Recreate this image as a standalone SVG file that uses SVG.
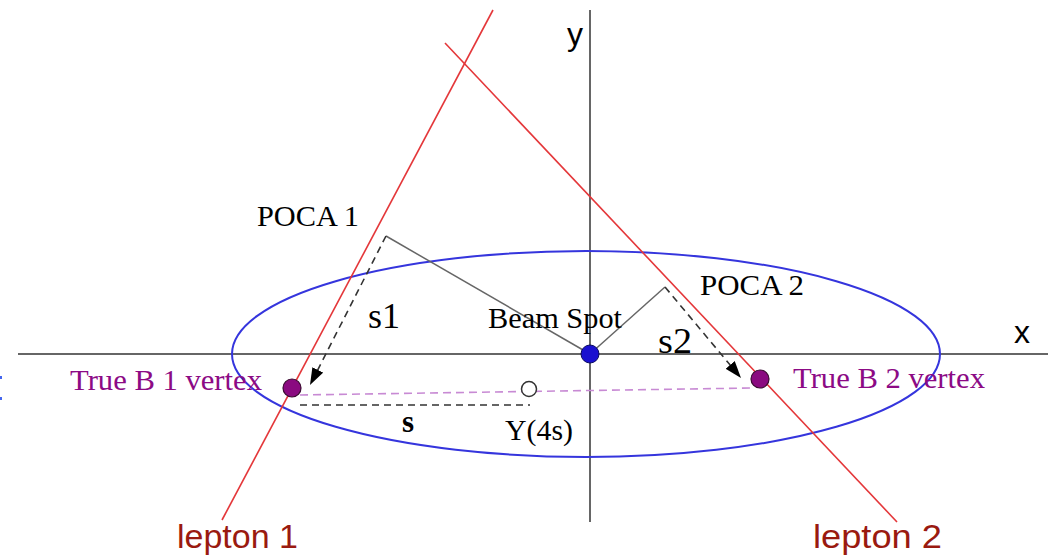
<svg xmlns="http://www.w3.org/2000/svg" width="1048" height="556" viewBox="0 0 1048 556">
<style>
.axis{stroke:#666;stroke-width:2;fill:none}
.lep{stroke:#e4373a;stroke-width:1.6;fill:none}
.gray{stroke:#666;stroke-width:1.5;fill:none}
.dash{stroke:#333;stroke-width:1.6;fill:none;stroke-dasharray:7 5}
.pdash{stroke:#c88ad4;stroke-width:1.6;fill:none;stroke-dasharray:8 5}
.serif{font-family:"Liberation Serif","Times New Roman",serif;fill:#000}
.sans{font-family:"Liberation Sans",Arial,sans-serif}
.purple{fill:#8c0a85}
.leplab{fill:#9a1a10;font-size:34px}
.vtx{fill:#8a0a80;stroke:#3a0a30;stroke-width:1.2}
</style>
<defs>
<marker id="ah" markerUnits="userSpaceOnUse" markerWidth="18" markerHeight="12" refX="17" refY="6" orient="auto">
<path d="M0,0 L17,6 L0,12 z" fill="#000"/>
</marker>
</defs>
<rect width="1048" height="556" fill="#fff"/>
<g id="edge-marks">
<rect x="0" y="376" width="2" height="3" fill="#4466ee"/>
<rect x="0" y="397" width="2" height="3" fill="#4466ee"/>
</g>
<g id="axes">
<line class="axis" x1="18" y1="354" x2="1048" y2="354"/>
<line class="axis" x1="590" y1="10" x2="590" y2="522"/>
<text class="sans" x="1014" y="343" font-size="32" fill="#000">x</text>
<text class="sans" x="567" y="45" font-size="32" fill="#000">y</text>
</g>
<g id="beam-ellipse">
<ellipse cx="586" cy="354" rx="354" ry="103" fill="none" stroke="#3535dd" stroke-width="2"/>
</g>
<g id="connectors">
<line class="lep" x1="493" y1="10" x2="222" y2="520"/>
<line class="lep" x1="445" y1="43" x2="897" y2="522"/>
<line class="gray" x1="386" y1="236" x2="590" y2="354"/>
<line class="gray" x1="665" y1="287" x2="590" y2="354"/>
<line class="dash" x1="386" y1="236" x2="310" y2="385" marker-end="url(#ah)"/>
<line class="dash" x1="665" y1="287" x2="741" y2="378" marker-end="url(#ah)"/>
<line class="pdash" x1="300" y1="395" x2="752" y2="388"/>
<line class="dash" x1="300" y1="405" x2="530" y2="405"/>
</g>
<g id="beam-spot">
<circle cx="590" cy="354" r="9" fill="#1a10d0" stroke="#0a0a60" stroke-width="1"/>
<text class="serif" x="488" y="328" font-size="29" textLength="134" lengthAdjust="spacingAndGlyphs">Beam Spot</text>
</g>
<g id="poca1">
<text class="serif" x="257" y="226" font-size="29" textLength="102" lengthAdjust="spacingAndGlyphs">POCA 1</text>
</g>
<g id="poca2">
<text class="serif" x="700" y="295" font-size="29" textLength="104" lengthAdjust="spacingAndGlyphs">POCA 2</text>
</g>
<g id="s1"><text class="serif" x="368" y="328" font-size="36" textLength="32" lengthAdjust="spacingAndGlyphs">s1</text></g>
<g id="s2"><text class="serif" x="658" y="353" font-size="36" textLength="34" lengthAdjust="spacingAndGlyphs">s2</text></g>
<g id="vertex1">
<circle class="vtx" cx="292" cy="388" r="9"/>
<text class="serif purple" x="70" y="390" font-size="30" textLength="192" lengthAdjust="spacingAndGlyphs">True B 1 vertex</text>
</g>
<g id="vertex2">
<circle class="vtx" cx="760" cy="379" r="9"/>
<text class="serif purple" x="793" y="388" font-size="30" textLength="192" lengthAdjust="spacingAndGlyphs">True B 2 vertex</text>
</g>
<g id="upsilon">
<circle cx="529" cy="389" r="7.5" fill="#fff" stroke="#333" stroke-width="1.5"/>
<text class="serif" x="505" y="440" font-size="29" textLength="68" lengthAdjust="spacingAndGlyphs">Y(4s)</text>
</g>
<g id="s-label"><text class="serif" x="402" y="432" font-size="31" font-weight="bold">s</text></g>
<g id="lepton1"><text class="sans leplab" x="177" y="548" textLength="121" lengthAdjust="spacingAndGlyphs">lepton 1</text></g>
<g id="lepton2"><text class="sans leplab" x="813" y="548" textLength="129" lengthAdjust="spacingAndGlyphs">lepton 2</text></g>
</svg>
